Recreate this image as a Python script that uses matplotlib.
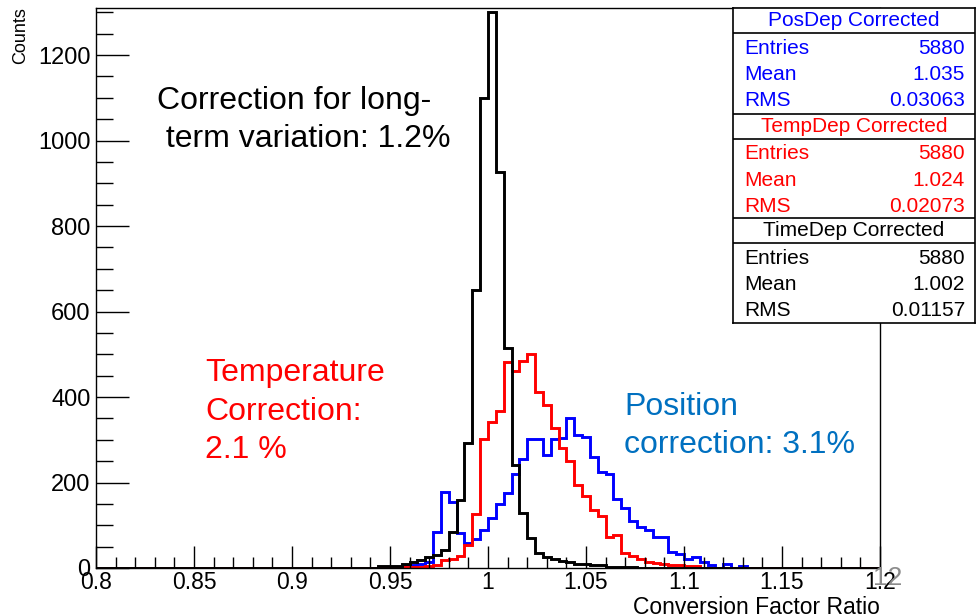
import numpy as np
import matplotlib
matplotlib.use('Agg')
import matplotlib.pyplot as plt
from matplotlib.ticker import MultipleLocator, FuncFormatter

plt.rcParams['font.family'] = ['Liberation Sans', 'DejaVu Sans']

# binning of the three histograms
bin_lo, bin_hi, n_bins = 0.8, 1.2, 100
first_bin = 0.940   # left edge of the first listed bin, bins are 0.004 wide

# PosDep Corrected (blue)
counts_pos = [0, 0, 1, 3, 4, 6, 10, 15, 84, 177, 154, 82, 59, 67, 90, 116,
              150, 175, 220, 255, 301, 301, 265, 301, 305, 352, 312, 306,
              260, 225, 220, 161, 140, 111, 96, 89, 73, 73, 38, 33, 20, 25,
              15, 6, 0, 9, 0, 4]
# TempDep Corrected (red)
counts_temp = [0, 0, 2, 2, 2, 2, 3, 4, 8, 19, 20, 27, 54, 127, 301, 342,
               368, 481, 461, 484, 500, 412, 381, 327, 280, 250, 194, 168,
               135, 121, 73, 78, 34, 27, 20, 15, 12, 9, 6, 6, 5, 5]
# TimeDep Corrected (black)
counts_time = [0, 5, 5, 5, 9, 13, 18, 25, 31, 42, 84, 159, 293, 650, 1100,
               1300, 926, 514, 240, 128, 71, 34, 26, 20, 16, 13, 10, 10, 6,
               6, 3, 3, 2, 2, 1, 1]

stat_titles = ['PosDep Corrected', 'TempDep Corrected', 'TimeDep Corrected']
stat_colors = ['#0000ff', '#ff0000', 'black']
stat_entries = ['5880', '5880', '5880']
stat_mean = ['1.035', '1.024', '1.002']
stat_rms = ['0.03063', '0.02073', '0.01157']

W, H = 976, 616


def full_hist(vals):
    h = np.zeros(n_bins)
    bw = (bin_hi - bin_lo) / n_bins
    start = int(round((first_bin - bin_lo) / bw))
    h[start:start + len(vals)] = vals
    return h


def fx(px):
    return px / W


def fy(py):
    return 1 - py / H


edges = np.linspace(bin_lo, bin_hi, n_bins + 1)

fig = plt.figure(figsize=(W / 100, H / 100), dpi=100)
ax = fig.add_axes([fx(96), fy(568), 784 / W, 560 / H])

for vals, col in [(counts_pos, '#0000ff'), (counts_temp, '#ff0000'), (counts_time, 'black')]:
    ax.stairs(full_hist(vals), edges, color=col, lw=2.1)

ax.set_xlim(bin_lo, bin_hi)
ax.set_ylim(0, 1310)
ax.xaxis.set_major_locator(MultipleLocator(0.05))
ax.xaxis.set_minor_locator(MultipleLocator(0.01))
ax.yaxis.set_major_locator(MultipleLocator(200))
ax.yaxis.set_minor_locator(MultipleLocator(50))
ax.xaxis.set_major_formatter(FuncFormatter(lambda v, p: '%g' % round(v, 3)))
ax.tick_params(axis='x', which='major', direction='in', length=16, width=1,
               labelsize=16.5, pad=2)
ax.tick_params(axis='x', which='minor', direction='in', length=8, width=1)
ax.tick_params(axis='y', which='major', direction='in', length=24, width=1,
               labelsize=17, pad=4)
ax.tick_params(axis='y', which='minor', direction='in', length=12, width=1)
for s in ax.spines.values():
    s.set_linewidth(1)

# axis titles, ROOT style
fig.text(fx(21), fy(7), 'Counts', rotation=90, ha='center', va='top', fontsize=13)
fig.text(fx(880), fy(596), 'Conversion Factor Ratio', ha='right', va='top', fontsize=16.5)

# annotations
fig.text(fx(157), fy(109), 'Correction for long-', fontsize=23, va='baseline')
fig.text(fx(157), fy(147), ' term variation: 1.2%', fontsize=23, va='baseline')
for i, line in enumerate(['Temperature', 'Correction:', '2.1 %']):
    fig.text(fx(205), fy(381 + 38.5 * i), line, fontsize=23, va='baseline', color='#ff0000')
for i, line in enumerate(['Position', 'correction: 3.1%']):
    fig.text(fx(624), fy(415 + 38 * i), line, fontsize=23, va='baseline', color='#0070c0')

# slide number
fig.text(fx(888), fy(578), '12', fontsize=19, color='#8c8c8c', ha='center', va='center')

# stats box
sb = fig.add_axes([fx(733), fy(323), (975 - 733) / W, (323 - 8) / H])
sb.set_xlim(733, 975)
sb.set_ylim(323, 8)
sb.set_facecolor('white')
sb.set_xticks([])
sb.set_yticks([])
for s in sb.spines.values():
    s.set_linewidth(1.2)
sections = [8, 113.5, 218]
for k in range(3):
    top = sections[k]
    if k > 0:
        sb.axhline(top, color='black', lw=1.2)
    sb.axhline(top + 25, color='black', lw=1.2)
    sb.text(854, top + 12.5, stat_titles[k], ha='center', va='center',
            fontsize=15, color=stat_colors[k])
    rows = [('Entries', stat_entries[k]), ('Mean', stat_mean[k]), ('RMS', stat_rms[k])]
    for j, (name, val) in enumerate(rows):
        yy = top + 40 + 26.5 * j
        sb.text(744, yy, name, ha='left', va='center', fontsize=15, color=stat_colors[k])
        sb.text(965, yy, val, ha='right', va='center', fontsize=15, color=stat_colors[k])

fig.savefig('out.png', dpi=100)
